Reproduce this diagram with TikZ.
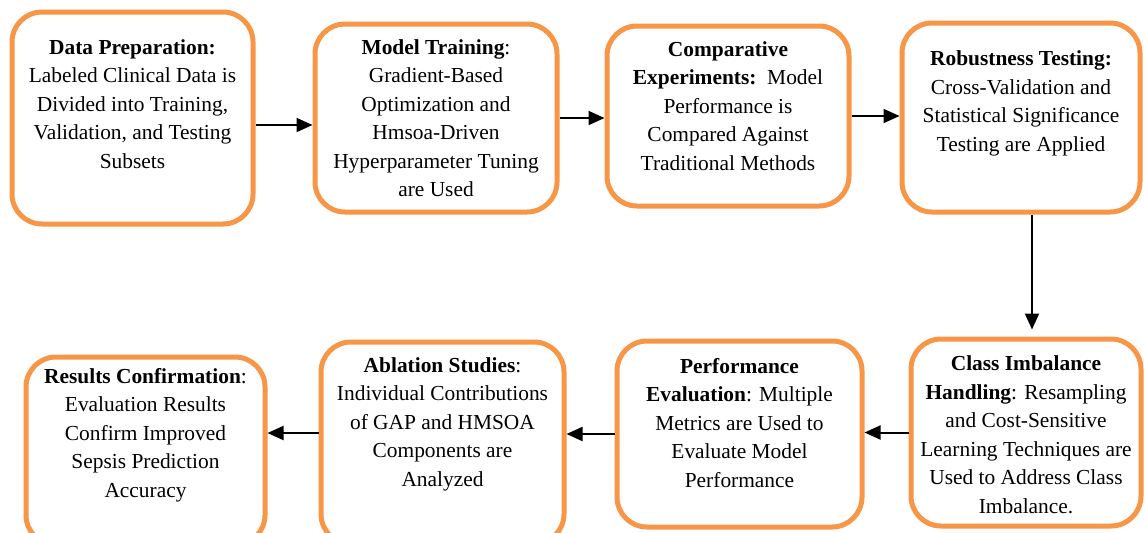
\documentclass[tikz,border=0pt]{standalone}
\usepackage{fontspec}
\setmainfont{Liberation Serif}[BoldFont={Liberation Serif Bold}]
\usetikzlibrary{arrows.meta}
\definecolor{stageorange}{HTML}{F79646}

\begin{document}
\begin{tikzpicture}[x=0.5pt, y=-0.5pt,
    stage/.style={draw=stageorange, line width=2.5pt, rounded corners=15pt, inner sep=0pt},
    stagetext/.style={align=center, inner sep=0pt, font=\rmfamily\fontsize{10.7}{14.25}\selectfont},
    flow/.style={line width=1pt, -{Triangle[length=8pt, width=7pt]}}]
    \useasboundingbox (0,0) rectangle (1145,532);

    % top row
    \node[stage, minimum width=120.5pt, minimum height=106pt] (prep) at (132.5,118) {};
    \node[stage, minimum width=121pt, minimum height=94pt] (train) at (436,118) {};
    \node[stage, minimum width=121pt, minimum height=90pt] (comp) at (728,116) {};
    \node[stage, minimum width=119pt, minimum height=94.5pt] (robust) at (1021,117.5) {};

    % bottom row
    \node[stage, minimum width=115pt, minimum height=93.5pt] (imbal) at (1026,432.5) {};
    \node[stage, minimum width=122.5pt, minimum height=93pt] (perf) at (739.5,434) {};
    \node[stage, minimum width=121.5pt, minimum height=101pt] (abl) at (442.5,443) {};
    \node[stage, minimum width=119.5pt, minimum height=94pt] (res) at (145.5,451) {};

    \node[stagetext] (prep-txt) at ([yshift=7pt]prep.center)
        {\textbf{Data Preparation:}\\Labeled Clinical Data is\\Divided into Training,\\Validation, and Testing\\Subsets};
    \node[stagetext] (train-txt) at (train.center)
        {\textbf{Model Training}:\\Gradient-Based\\Optimization and\\Hmsoa-Driven\\Hyperparameter Tuning\\are Used};
    \node[stagetext] (comp-txt) at ([yshift=5pt]comp.center)
        {\textbf{Comparative}\\\textbf{Experiments:}\ \ Model\\Performance is\\Compared Against\\Traditional Methods};
    \node[stagetext] (robust-txt) at ([yshift=7pt]robust.center)
        {\textbf{Robustness Testing:}\\Cross-Validation and\\Statistical Significance\\Testing are Applied};
    \node[stagetext] (imbal-txt) at ([yshift=-1pt]imbal.center)
        {\textbf{Class Imbalance}\\\textbf{Handling}: Resampling\\and Cost-Sensitive\\Learning Techniques are\\Used to Address Class\\Imbalance.};
    \node[stagetext] (perf-txt) at ([yshift=5.5pt]perf.center)
        {\textbf{Performance}\\\textbf{Evaluation}: Multiple\\Metrics are Used to\\Evaluate Model\\Performance};
    \node[stagetext] (abl-txt) at ([yshift=9.5pt]abl.center)
        {\textbf{Ablation Studies}:\\Individual Contributions\\of GAP and HMSOA\\Components are\\Analyzed};
    \node[stagetext] (res-txt) at ([yshift=8pt]res.center)
        {\textbf{Results Confirmation}:\\Evaluation Results\\Confirm Improved\\Sepsis Prediction\\Accuracy};

    % connectors
    \draw[flow] ([yshift=-3.5pt]prep.east) -- ([yshift=-3.5pt]prep.east -| train.west);
    \draw[flow] (train.east) -- (train.east -| comp.west);
    \draw[flow] (comp.east) -- (comp.east -| robust.west);
    \draw[flow, shorten >=3.5pt] ([xshift=5.5pt]robust.south) -- ([xshift=5.5pt]robust.south |- imbal.north);
    \draw[flow] (imbal.west) -- (imbal.west -| perf.east);
    \draw[flow] (perf.west) -- (perf.west -| abl.east);
    \draw[flow] ([yshift=5pt]abl.west) -- ([yshift=5pt]abl.west -| res.east);
\end{tikzpicture}
\end{document}
